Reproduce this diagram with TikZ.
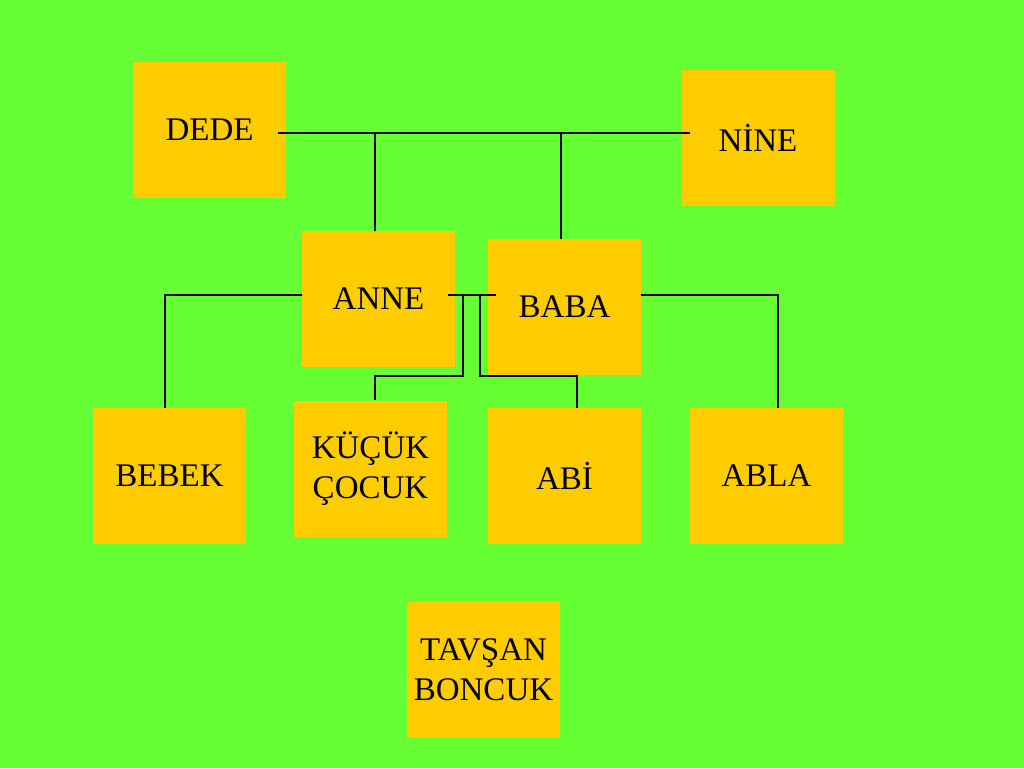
\documentclass[tikz,border=0pt]{standalone}
\usepackage{fontspec}
\setmainfont{Liberation Serif}
\begin{document}
\begin{tikzpicture}[x=1pt,y=-1pt,
  box/.style={draw=none,fill=boxyellow,minimum width=153pt,minimum height=136pt,inner sep=0pt,
    font=\fontsize{33}{40}\selectfont,align=center},
  link/.style={draw=black,line width=1.1pt}]
\definecolor{bggreen}{HTML}{66FF33}
\definecolor{boxyellow}{HTML}{FFCC00}
\fill[bggreen] (0,0) rectangle (1024,768);
\useasboundingbox (0,0) rectangle (1024,768);
\node[box] (dede) at (209.5,130) {DEDE};
\node[box] (nine) at (758,138) {NİNE};
\node[box] (anne) at (378.5,299) {ANNE};
\node[box] (baba) at (564.5,307) {BABA};
\node[box] (bebek) at (169.5,476) {BEBEK};
\node[box] (kucuk) at (370.5,468.5) {KÜÇÜK \\ ÇOCUK};
\node[box] (abi) at (564.5,476) {ABİ};
\node[box] (abla) at (766.5,476) {ABLA};
\node[box] (tavsan) at (483.5,670) {TAVŞAN\\BONCUK};
% top marriage line
\coordinate (tl) at (278,133);
\coordinate (tr) at (690,133);
\coordinate (j1) at (375,133);
\coordinate (j2) at (561,133);
\draw[link] (tl) -- (tr);
\draw[link] (j1) -- (j1 |- anne.north);
\draw[link] (j2) -- (j2 |- baba.north);
% anne-baba bar
\coordinate (ab1) at (448,295);
\coordinate (ab2) at (496,295);
\draw[link] (ab1) -- (ab2);
\coordinate (d1) at (463,295);
\coordinate (d1b) at (463,376);
\coordinate (k1) at (375,376);
\draw[link] (d1) -- (d1b) -- (k1) -- (k1 |- kucuk.north);
\coordinate (d2) at (480,295);
\coordinate (d2b) at (480,376);
\coordinate (a1) at (577,376);
\draw[link] (d2) -- (d2b) -- (a1) -- (a1 |- abi.north);
% side links
\coordinate (lw) at (165,295);
\draw[link] (anne.west |- lw) -- (lw) -- (lw |- bebek.north);
\coordinate (re) at (778,295);
\draw[link] (baba.east |- re) -- (re) -- (re |- abla.north);
\end{tikzpicture}
\end{document}
